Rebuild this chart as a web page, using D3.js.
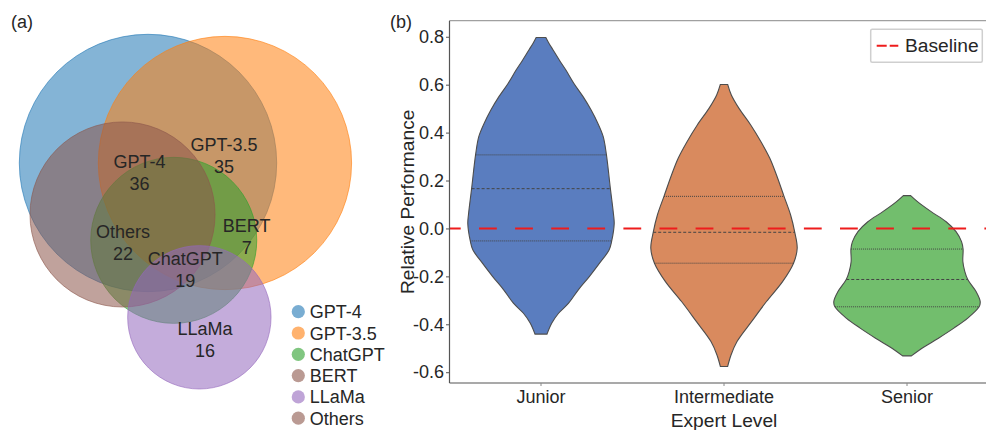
<!DOCTYPE html>
<html>
<head>
<meta charset="utf-8">
<script src="https://cdn.jsdelivr.net/npm/d3@7"></script>
<style>
  body { margin: 0; background: #fff; }
  svg { font-family: "Liberation Sans", Arial, Helvetica, sans-serif; }
</style>
</head>
<body>
<svg id="chart" width="986" height="430"></svg>
<script>
// ---- data: panel (a)
var setNames = ["GPT-4", "GPT-3.5", "ChatGPT", "BERT", "LLaMa", "Others"];
var setCounts = [36, 35, 19, 7, 16, 22];
var setColors = ["#1f77b4", "#ff7f0e", "#2ca02c", "#8c564b", "#9467bd", "#8c564b"];

// circle layout, in units of the GPT-4 radius, centred on GPT-4 (drawing order)
var circleSets = ["GPT-4", "GPT-3.5", "ChatGPT", "Others", "LLaMa"];
var circleX = [0, 0.598, 0.200, -0.198, 0.399];
var circleY = [0, 0, 0.601, 0.400, 1.199];
var circleR = [1, 0.984, 0.645, 0.719, 0.557];

var labelX = [-0.066, 0.591, 0.289, 0.767, 0.443, -0.194];
var labelY = [0.037, -0.093, 0.793, 0.538, 1.336, 0.580];

// ---- data: panel (b)
var levels = ["Junior", "Intermediate", "Senior"];
// violin outlines: [value, relative half width]
var juniorProfile = [[0.797,0.066],[0.772,0.11],[0.744,0.167],[0.703,0.25],[0.661,0.34],[0.605,0.45],
  [0.55,0.575],[0.494,0.685],[0.439,0.776],[0.383,0.85],[0.307,0.894],[0.166,0.948],[0.06,0.99],
  [0.02,1.0],[-0.052,0.966],[-0.09,0.93],[-0.145,0.80],[-0.201,0.66],[-0.256,0.51],[-0.312,0.377],
  [-0.354,0.24],[-0.395,0.148],[-0.441,0.082]];
var intermediateProfile = [[0.601,0.05],[0.557,0.10],[0.501,0.205],[0.432,0.365],[0.362,0.505],
  [0.293,0.626],[0.223,0.717],[0.134,0.82],[0.056,0.91],[-0.016,0.967],[-0.083,1.0],[-0.145,0.95],
  [-0.222,0.80],[-0.305,0.58],[-0.389,0.376],[-0.472,0.178],[-0.528,0.096],[-0.576,0.05]];
var seniorProfile = [[0.137,0.05],[0.112,0.143],[0.070,0.33],[0.028,0.535],[-0.013,0.67],
  [-0.055,0.745],[-0.086,0.766],[-0.138,0.763],[-0.18,0.79],[-0.213,0.83],[-0.264,0.945],
  [-0.305,1.0],[-0.327,0.985],[-0.374,0.83],[-0.416,0.64],[-0.458,0.43],[-0.5,0.205],[-0.532,0.06]];
var quartiles = [[-0.052, 0.166, 0.307], [-0.145, -0.016, 0.134], [-0.327, -0.213, -0.086]];
var yTicks = [-0.6, -0.4, -0.2, 0.0, 0.2, 0.4, 0.6, 0.8];
var baselineValue = 0;

(function() {
var svg = d3.select("#chart");
var textColor = "#262626";

// ================= panel (a) =================
var unit = 128.7;
var vx = d3.scaleLinear().domain([0, 1]).range([148, 148 + unit]);
var vy = d3.scaleLinear().domain([0, 1]).range([163, 163 + unit]);

var venn = svg.append("g");
circleSets.forEach(function(name, i) {
  var col = setColors[setNames.indexOf(name)];
  venn.append("circle")
      .attr("cx", vx(circleX[i]))
      .attr("cy", vy(circleY[i]))
      .attr("r", vx(circleR[i]) - vx(0))
      .attr("fill", col)
      .attr("fill-opacity", 0.55)
      .attr("stroke", col)
      .attr("stroke-opacity", 0.6)
      .attr("stroke-width", 1);
});

setNames.forEach(function(name, i) {
  var t = venn.append("text")
      .attr("x", vx(labelX[i]))
      .attr("y", vy(labelY[i]))
      .attr("text-anchor", "middle")
      .attr("font-size", 18)
      .attr("fill", textColor);
  t.append("tspan").attr("x", vx(labelX[i])).text(name);
  t.append("tspan").attr("x", vx(labelX[i])).attr("dy", 22).text(setCounts[i]);
});

var legA = svg.append("g").attr("transform", "translate(298.3,311.7)");
setNames.forEach(function(name, i) {
  var row = legA.append("g").attr("transform", "translate(0," + (i * 21.3) + ")");
  row.append("circle").attr("r", 6.6).attr("fill", setColors[i]).attr("fill-opacity", 0.6);
  row.append("text").attr("x", 11.5).attr("y", 6.5)
     .attr("font-size", 18).attr("fill", textColor).text(name);
});

svg.append("text").attr("x", 11).attr("y", 28).attr("font-size", 18)
   .attr("fill", textColor).text("(a)");

// ================= panel (b) =================
var plotLeft = 449.5, plotTop = 20.7, plotBottom = 383;
var x = d3.scaleBand().domain(levels).range([plotLeft, plotLeft + 549]).padding(0);
var y = d3.scaleLinear().domain([-0.645, 0.867]).range([plotBottom, plotTop]);
var hw = x.bandwidth() * 0.4;

var violinFill = ["#5a7dbf", "#d98a5e", "#72be6d"];
var profiles = [juniorProfile, intermediateProfile, seniorProfile];

function widthAt(profile, v) {
  for (var k = 0; k < profile.length - 1; k++) {
    var a = profile[k], b = profile[k + 1];
    if (v <= a[0] && v >= b[0]) {
      var t = (a[0] - v) / (a[0] - b[0]);
      return a[1] + t * (b[1] - a[1]);
    }
  }
  return 0;
}

var plot = svg.append("g");
levels.forEach(function(lv, i) {
  var cx = x(lv) + x.bandwidth() / 2;
  var area = d3.area()
      .y(function(d) { return y(d[0]); })
      .x0(function(d) { return cx - d[1] * hw; })
      .x1(function(d) { return cx + d[1] * hw; })
      .curve(d3.curveCatmullRom.alpha(0.5));
  plot.append("path")
      .attr("d", area(profiles[i]))
      .attr("fill", violinFill[i])
      .attr("stroke", "#4d4d4d")
      .attr("stroke-width", 1.1);
  quartiles[i].forEach(function(q, j) {
    var w = widthAt(profiles[i], q) * hw;
    plot.append("line")
        .attr("x1", cx - w).attr("x2", cx + w)
        .attr("y1", y(q)).attr("y2", y(q))
        .attr("stroke", "#444")
        .attr("stroke-width", 1)
        .attr("stroke-dasharray", j == 1 ? "3,2" : "1,1");
  });
});

// baseline
plot.append("line")
    .attr("x1", plotLeft).attr("x2", x.range()[1])
    .attr("y1", y(baselineValue)).attr("y2", y(baselineValue))
    .attr("stroke", "#ee1c1c")
    .attr("stroke-width", 2)
    .attr("stroke-dasharray", "17.8,18.3")
    .attr("stroke-dashoffset", 6.6);

// spines
svg.append("line").attr("x1", plotLeft).attr("x2", 986).attr("y1", plotTop).attr("y2", plotTop)
   .attr("stroke", "#a0a0a0").attr("stroke-width", 1.2);
svg.append("line").attr("x1", plotLeft).attr("x2", 986).attr("y1", plotBottom).attr("y2", plotBottom)
   .attr("stroke", "#555").attr("stroke-width", 1.2);
svg.append("line").attr("x1", plotLeft).attr("x2", plotLeft).attr("y1", plotTop).attr("y2", plotBottom)
   .attr("stroke", "#555").attr("stroke-width", 1.2);

// axes
var yAxis = svg.append("g").attr("transform", "translate(" + plotLeft + ",0)")
    .call(d3.axisLeft(y).tickValues(yTicks).tickSize(3.5).tickPadding(2)
            .tickFormat(function(d) { return d.toFixed(1); }));
yAxis.select(".domain").remove();
yAxis.selectAll("line").attr("stroke", "#555");
yAxis.selectAll("text").attr("font-size", 18).attr("fill", textColor)
     .attr("font-family", "Liberation Sans, Arial, sans-serif");

var xAxis = svg.append("g").attr("transform", "translate(0," + plotBottom + ")")
    .call(d3.axisBottom(x).tickSize(3).tickPadding(4));
xAxis.select(".domain").remove();
xAxis.selectAll("line").attr("stroke", "#888");
xAxis.selectAll("text").attr("font-size", 18).attr("fill", textColor)
     .attr("font-family", "Liberation Sans, Arial, sans-serif");

svg.append("text")
   .attr("transform", "translate(413.5," + ((plotTop + plotBottom) / 2) + ") rotate(-90)")
   .attr("text-anchor", "middle").attr("font-size", 19.2).attr("fill", textColor)
   .text("Relative Performance");
svg.append("text")
   .attr("x", 724).attr("y", 427).attr("text-anchor", "middle")
   .attr("font-size", 19.2).attr("fill", textColor).text("Expert Level");

svg.append("text").attr("x", 390).attr("y", 28).attr("font-size", 18)
   .attr("fill", textColor).text("(b)");

// legend (b)
var legB = svg.append("g").attr("transform", "translate(870.7,29.3)");
legB.append("rect").attr("width", 111.6).attr("height", 33)
    .attr("fill", "#fff").attr("fill-opacity", 0.8)
    .attr("stroke", "#cfcfcf").attr("stroke-width", 1.5).attr("rx", 1.5);
legB.append("line").attr("x1", 6).attr("x2", 27.6).attr("y1", 16.4).attr("y2", 16.4)
    .attr("stroke", "#ee1c1c").attr("stroke-width", 2).attr("stroke-dasharray", "10,3");
legB.append("text").attr("x", 34.3).attr("y", 23.2).attr("font-size", 19.2)
    .attr("fill", textColor).text("Baseline");
})();
</script>
</body>
</html>
